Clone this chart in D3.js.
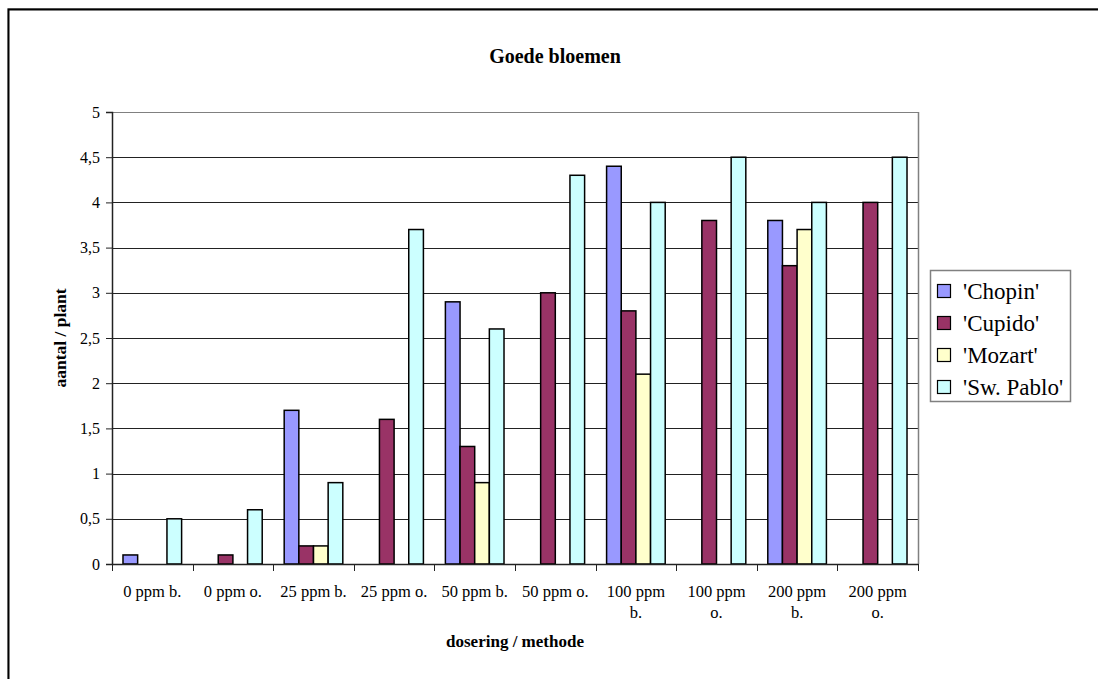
<!DOCTYPE html>
<html>
<head>
<meta charset="utf-8">
<script src="https://cdn.jsdelivr.net/npm/d3@7"></script>
<style>
  html, body { margin: 0; padding: 0; background: #fff; }
  svg { display: block; }
  svg text { font-family: "Liberation Serif", "Times New Roman", serif; fill: #000; }
</style>
</head>
<body>
<svg id="chart" width="1098" height="679"></svg>
<script>
// Categories (dose / method) and cultivar series
const categories = ["0 ppm b.", "0 ppm o.", "25 ppm b.", "25 ppm o.", "50 ppm b.",
                    "50 ppm o.", "100 ppm b.", "100 ppm o.", "200 ppm b.", "200 ppm o."];
const seriesNames = ["'Chopin'", "'Cupido'", "'Mozart'", "'Sw. Pablo'"];
const chopin   = [0.1, 0,   1.7, 0,   2.9, 0,   4.4, 0,   3.8, 0];
const cupido   = [0,   0.1, 0.2, 1.6, 1.3, 3.0, 2.8, 3.8, 3.3, 4.0];
const mozart   = [0,   0,   0.2, 0,   0.9, 0,   2.1, 0,   3.7, 0];
const swPablo  = [0.5, 0.6, 0.9, 3.7, 2.6, 4.3, 4.0, 4.5, 4.0, 4.5];
const yTicks   = [0, 0.5, 1, 1.5, 2, 2.5, 3, 3.5, 4, 4.5, 5];
const colors   = ["#9999FF", "#993366", "#FFFFCC", "#CCFFFF"];

const seriesValues = [chopin, cupido, mozart, swPablo];

const svg = d3.select("#chart");
const plot = { left: 112, right: 918, top: 112, bottom: 564 };

// Outer chart frame (runs off the right and bottom edges)
svg.append("rect")
  .attr("x", 8).attr("y", 8.5).attr("width", 1200).attr("height", 800)
  .attr("fill", "none").attr("stroke", "#999").attr("stroke-width", 1);
svg.append("rect")
  .attr("x", 8.5).attr("y", 9.5).attr("width", 1200).attr("height", 800)
  .attr("fill", "none").attr("stroke", "#000").attr("stroke-width", 2);

const x0 = d3.scaleBand().domain(categories).range([plot.left, plot.right]).paddingInner(0).paddingOuter(0);
// Gap width of 150% -> the four bars fill 4/(4+1.5) of each band
const groupW = x0.bandwidth() * 4 / 5.5;
const x1 = d3.scaleBand().domain(seriesNames).range([0, groupW]).padding(0);
const y = d3.scaleLinear().domain([0, 5]).range([plot.bottom, plot.top]);

// Gridlines
svg.append("g")
  .selectAll("line")
  .data(yTicks.filter(d => d > 0))
  .join("line")
  .attr("x1", plot.left).attr("x2", plot.right)
  .attr("y1", d => Math.round(y(d)) + 0.5).attr("y2", d => Math.round(y(d)) + 0.5)
  .attr("stroke", d => d === 5 ? "#808080" : "#222").attr("stroke-width", 1);

// Plot-area right edge
svg.append("line")
  .attr("x1", plot.right + 0.5).attr("x2", plot.right + 0.5)
  .attr("y1", plot.top).attr("y2", plot.bottom)
  .attr("stroke", "#808080").attr("stroke-width", 1.5);

// Bars
const groups = svg.append("g").selectAll("g")
  .data(categories)
  .join("g")
  .attr("transform", (c) => `translate(${x0(c) + (x0.bandwidth() - groupW) / 2},0)`);

groups.selectAll("rect")
  .data((c, i) => seriesNames.map((s, k) => ({ s, k, v: seriesValues[k][i] })).filter(d => d.v > 0))
  .join("rect")
  .attr("x", d => x1(d.s))
  .attr("y", d => y(d.v))
  .attr("width", x1.bandwidth())
  .attr("height", d => y(0) - y(d.v))
  .attr("fill", d => colors[d.k])
  .attr("stroke", "#000")
  .attr("stroke-width", 1.5);

// Y axis
const yAxis = d3.axisLeft(y).tickValues(yTicks).tickSize(6).tickPadding(6)
  .tickFormat(d => String(d).replace(".", ","));
const gy = svg.append("g").attr("transform", `translate(${plot.left},0)`).call(yAxis);
gy.select(".domain").attr("stroke", "#222").attr("stroke-width", 1.5);
gy.selectAll(".tick line").attr("stroke", "#222");
gy.selectAll("text").attr("font-size", 16).attr("font-family", null);

// X axis
const xAxis = d3.axisBottom(x0).tickSize(0).tickFormat("");
const gx = svg.append("g").attr("transform", `translate(0,${plot.bottom})`).call(xAxis);
gx.select(".domain").attr("stroke", "#222").attr("stroke-width", 1.5);
// Category separator ticks
gx.append("g").selectAll("line")
  .data(categories.map(c => x0(c)).concat([plot.right]))
  .join("line")
  .attr("x1", d => Math.round(d) + 0.5).attr("x2", d => Math.round(d) + 0.5)
  .attr("y1", 0).attr("y2", 7)
  .attr("stroke", "#222");

// Category labels, wrapped to the band width
const labelG = svg.append("g").attr("font-size", 16.5);
categories.forEach(c => {
  const cx = x0(c) + x0.bandwidth() / 2;
  const t = labelG.append("text").attr("x", cx).attr("y", plot.bottom + 33).attr("text-anchor", "middle");
  const words = c.split(" ");
  let line = [];
  let tspan = t.append("tspan").attr("x", cx).attr("dy", 0);
  const maxW = 71;
  words.forEach(w => {
    line.push(w);
    tspan.text(line.join(" "));
    if (tspan.node().getComputedTextLength() > maxW && line.length > 1) {
      line.pop();
      tspan.text(line.join(" "));
      line = [w];
      tspan = t.append("tspan").attr("x", cx).attr("dy", 21).text(w);
    }
  });
});

// Title and axis titles
svg.append("text").attr("x", 555).attr("y", 63).attr("text-anchor", "middle")
  .attr("font-size", 20).attr("font-weight", "bold").text("Goede bloemen");
svg.append("text").attr("x", (plot.left + plot.right) / 2).attr("y", 647).attr("text-anchor", "middle")
  .attr("font-size", 17).attr("font-weight", "bold").text("dosering / methode");
svg.append("text")
  .attr("transform", `translate(66,${(plot.top + plot.bottom) / 2}) rotate(-90)`)
  .attr("text-anchor", "middle").attr("font-size", 17.5).attr("font-weight", "bold")
  .text("aantal / plant");

// Legend
const lg = svg.append("g");
lg.append("rect").attr("x", 930.5).attr("y", 270.5).attr("width", 140).attr("height", 131)
  .attr("fill", "#fff").attr("stroke", "#808080").attr("stroke-width", 1.5);
seriesNames.forEach((s, k) => {
  const cy = 291 + k * 32;
  lg.append("rect").attr("x", 937.5).attr("y", cy - 6.5).attr("width", 13).attr("height", 13)
    .attr("fill", colors[k]).attr("stroke", "#000").attr("stroke-width", 1.2);
  lg.append("text").attr("x", 963).attr("y", cy + 8).attr("font-size", 23).text(s);
});
</script>
</body>
</html>
